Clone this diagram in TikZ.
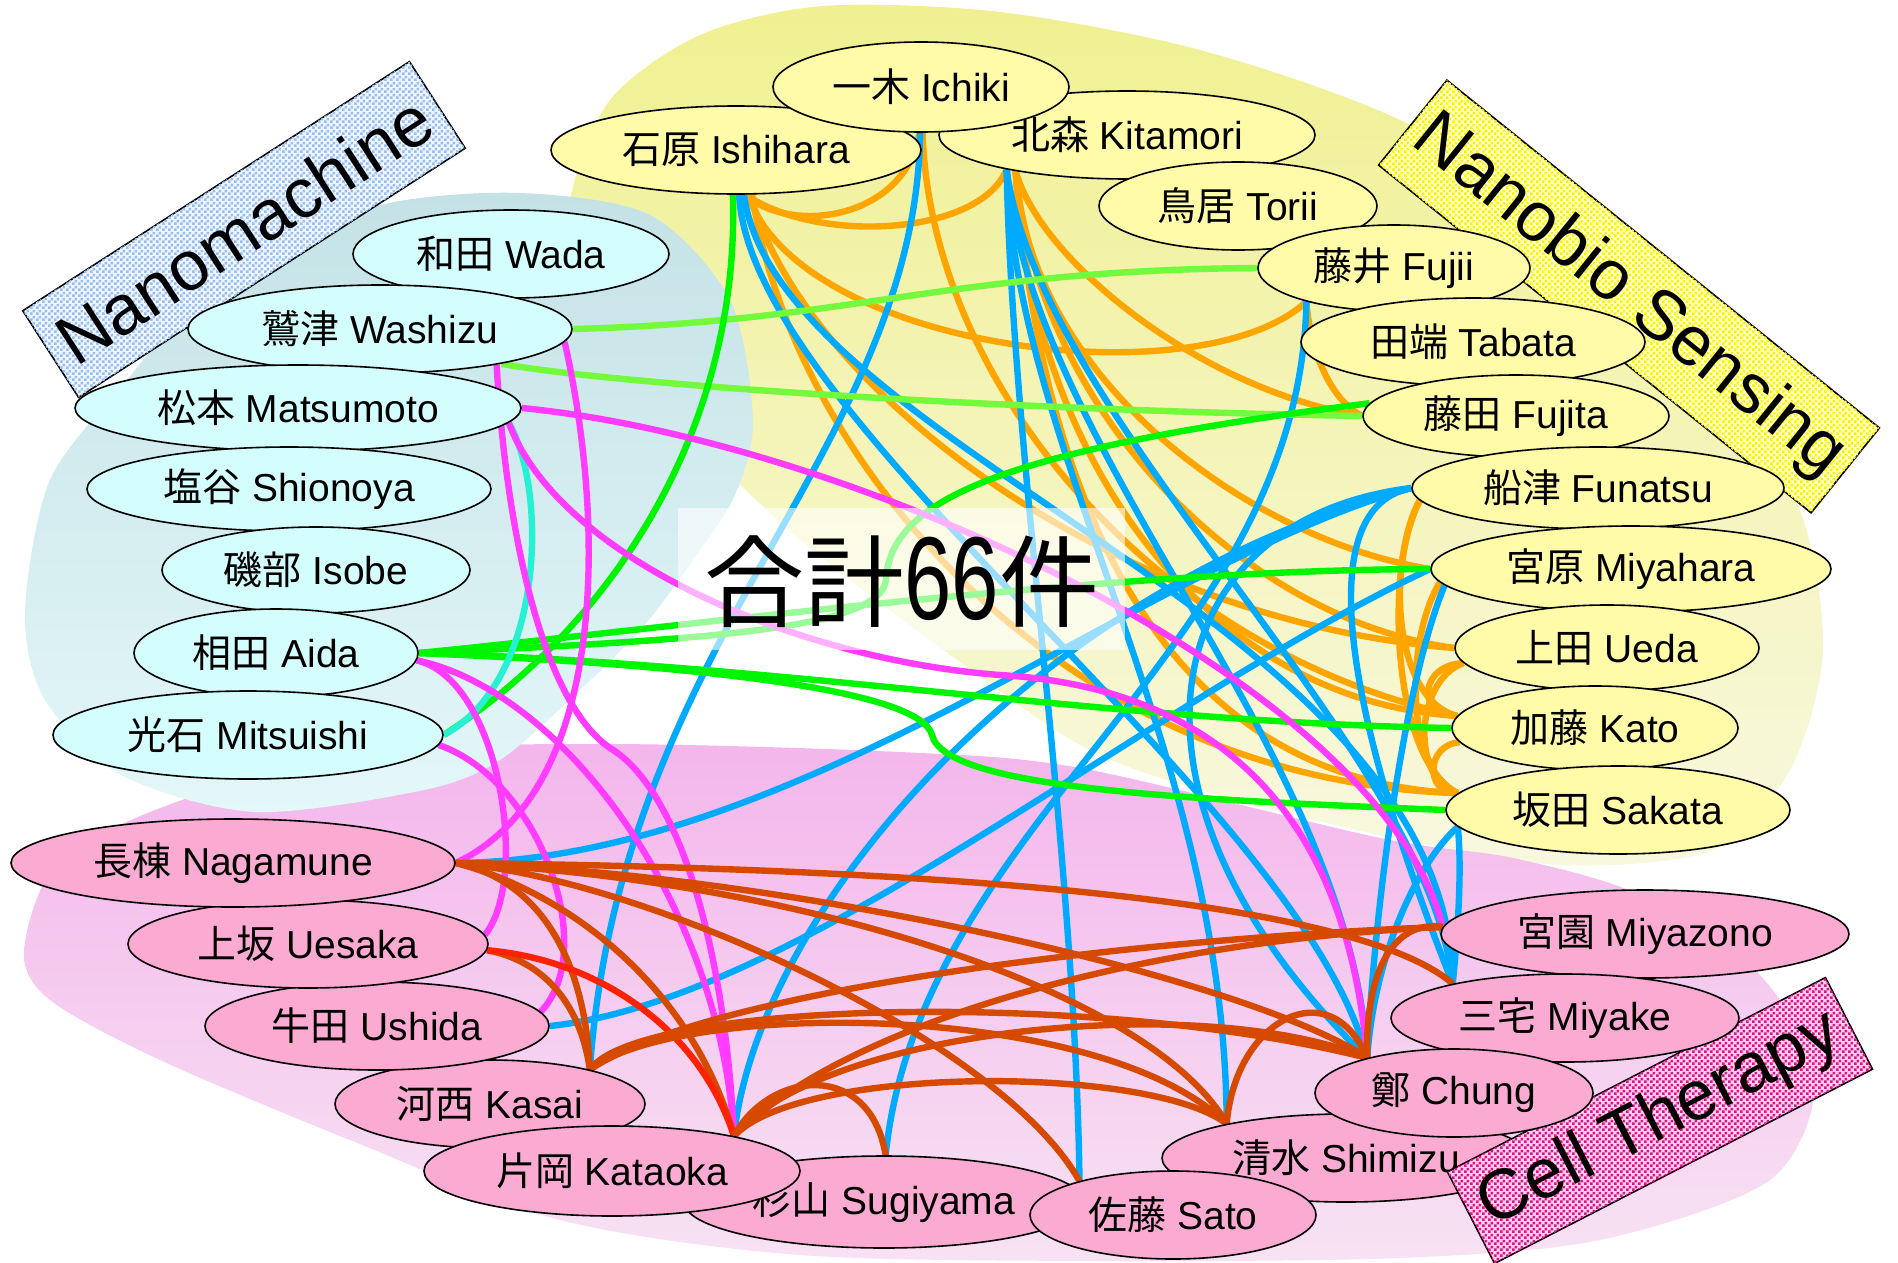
\documentclass[tikz,border=0pt]{standalone}
\usepackage{fontspec}
\setmainfont{Liberation Sans}
\newfontfamily\jp{Noto Sans CJK JP}
\usetikzlibrary{shapes.geometric,patterns.meta}
\pgfdeclarelayer{blobs}
\pgfdeclarelayer{edges}
\pgfdeclarelayer{mid}
\pgfsetlayers{blobs,edges,mid,main}
\definecolor{cyblobtop}{RGB}{196,226,230}
\definecolor{cyblobbot}{RGB}{228,247,249}
\definecolor{yeblobtop}{RGB}{240,240,145}
\definecolor{yeblobbot}{RGB}{248,248,224}
\definecolor{pkblobtop}{RGB}{244,182,236}
\definecolor{pkblobbot}{RGB}{247,226,243}
\definecolor{cynode}{RGB}{212,254,254}
\definecolor{yenode}{RGB}{255,251,168}
\definecolor{pknode}{RGB}{251,170,210}
\definecolor{eorangec}{RGB}{255,165,0}
\definecolor{ebluec}{RGB}{0,170,255}
\definecolor{egreenc}{RGB}{0,245,0}
\definecolor{elgreenc}{RGB}{115,250,60}
\definecolor{emagc}{RGB}{255,60,255}
\definecolor{ebrownc}{RGB}{214,74,0}
\definecolor{eredc}{RGB}{255,34,0}
\definecolor{eturqc}{RGB}{40,240,210}
\definecolor{nmpat}{RGB}{150,190,240}
\definecolor{nmbg}{RGB}{240,246,255}
\definecolor{nbpat}{RGB}{255,240,0}
\definecolor{nbbg}{RGB}{255,255,215}
\definecolor{ctpat}{RGB}{215,20,140}
\definecolor{ctbg}{RGB}{250,210,235}
\tikzdeclarepattern{
  name=checkgrid,
  type=uncolored,
  bottom left={(0pt,0pt)},
  top right={(6pt,6pt)},
  tile size={(6pt,6pt)},
  code={
    \fill (0pt,0pt) rectangle (3pt,3pt);
    \fill (3pt,3pt) rectangle (6pt,6pt);
  }
}
\newcommand{\pname}[2]{\makebox[0pt]{{\jp #1} #2}}
\tikzset{
  person/.style={ellipse, draw=black, line width=1.6pt, inner sep=0pt, font=\fontsize{39}{44}\selectfont},
  cyn/.style={person, fill=cynode},
  yen/.style={person, fill=yenode},
  pkn/.style={person, fill=pknode},
  lab/.style={draw=black, line width=1.6pt, inner sep=0pt, font=\fontsize{70}{80}\selectfont},
  conn/.style={line width=6.4pt},
  eo/.style={conn, draw=eorangec},
  eb/.style={conn, draw=ebluec},
  eg/.style={conn, draw=egreenc},
  elg/.style={conn, draw=elgreenc},
  emg/.style={conn, draw=emagc},
  ebr/.style={conn, draw=ebrownc},
  erd/.style={conn, draw=eredc},
  etq/.style={conn, draw=eturqc},
}
\begin{document}
\begin{tikzpicture}[x=1pt, y=-1pt]
\useasboundingbox (0,0) rectangle (1898,1263);
% background blobs
\begin{pgfonlayer}{blobs}
\shade[top color=yeblobtop, bottom color=yeblobbot] plot[smooth cycle] coordinates {
 (567,330) (570,200) (610,100) (700,35) (823,6) (1000,12) (1200,50) (1400,120) (1580,230)
 (1720,370) (1800,510) (1823,650) (1790,770) (1713,850) (1560,865) (1380,835) (1200,790)
 (1080,745) (930,640) (800,540) (690,440) (600,390)};
\shade[top color=pkblobtop, bottom color=pkblobbot] plot[smooth cycle] coordinates {
 (24,950) (60,860) (182,800) (364,752) (606,744) (900,752) (1080,768) (1380,838) (1513,858)
 (1640,895) (1760,975) (1815,1080) (1770,1180) (1600,1240) (1400,1258) (1100,1261)
 (800,1255) (560,1220) (350,1140) (160,1060) (50,1000)};
\shade[top color=cyblobtop, bottom color=cyblobbot] plot[smooth cycle] coordinates {
 (25,613) (50,480) (127,380) (233,262) (380,205) (520,193) (650,215) (730,300) (753,420)
 (735,495) (693,560) (643,627) (580,690) (500,760) (424,790) (255,812) (121,775) (45,700)};
\end{pgfonlayer}

% name ellipses
\node[cyn, minimum width=316pt, minimum height=88pt] (wada) at (511,254) {\pname{和田}{Wada}};
\node[cyn, minimum width=384pt, minimum height=88pt] (washizu) at (380,329) {\pname{鷲津}{Washizu}};
\node[cyn, minimum width=446pt, minimum height=86pt] (matsumoto) at (298,408) {\pname{松本}{Matsumoto}};
\node[cyn, minimum width=404pt, minimum height=84pt] (shionoya) at (289,489) {\pname{塩谷}{Shionoya}};
\node[cyn, minimum width=308pt, minimum height=86pt] (isobe) at (316,570) {\pname{磯部}{Isobe}};
\node[cyn, minimum width=284pt, minimum height=88pt] (aida) at (276,653) {\pname{相田}{Aida}};
\node[cyn, minimum width=390pt, minimum height=88pt] (mitsuishi) at (248,735) {\pname{光石}{Mitsuishi}};

\node[yen, minimum width=370pt, minimum height=88pt] (ishihara) at (736,150) {\pname{石原}{Ishihara}};
\node[yen, minimum width=376pt, minimum height=88pt] (kitamori) at (1127,135) {\pname{北森}{Kitamori}};
\node[yen, minimum width=296pt, minimum height=90pt] (ichiki) at (921,87) {\pname{一木}{Ichiki}};
\node[yen, minimum width=278pt, minimum height=88pt] (torii) at (1238,206) {\pname{鳥居}{Torii}};
\node[yen, minimum width=272pt, minimum height=86pt] (fujii) at (1394,268) {\pname{藤井}{Fujii}};
\node[yen, minimum width=344pt, minimum height=88pt] (tabata) at (1473,342) {\pname{田端}{Tabata}};
\node[yen, minimum width=306pt, minimum height=82pt] (fujita) at (1516,416) {\pname{藤田}{Fujita}};
\node[yen, minimum width=372pt, minimum height=82pt] (funatsu) at (1598,488) {\pname{船津}{Funatsu}};
\node[yen, minimum width=400pt, minimum height=86pt] (miyahara) at (1631,569) {\pname{宮原}{Miyahara}};
\node[yen, minimum width=304pt, minimum height=86pt] (ueda) at (1607,648) {\pname{上田}{Ueda}};
\node[yen, minimum width=286pt, minimum height=84pt] (kato) at (1595,728) {\pname{加藤}{Kato}};
\node[yen, minimum width=344pt, minimum height=88pt] (sakata) at (1618,810) {\pname{坂田}{Sakata}};

\node[pkn, minimum width=408pt, minimum height=88pt] (miyazono) at (1645,934) {\pname{宮園}{Miyazono}};
\node[pkn, minimum width=368pt, minimum height=88pt] (shimizu) at (1346,1158) {\pname{清水}{Shimizu}};
\node[pkn, minimum width=400pt, minimum height=92pt] (sugiyama) at (884,1202) {\pname{杉山}{Sugiyama}};
\node[pkn, minimum width=310pt, minimum height=88pt] (kasai) at (490,1104) {\pname{河西}{Kasai}};
\node[pkn, minimum width=376pt, minimum height=90pt] (kataoka) at (612,1171) {\pname{片岡}{Kataoka}};
\node[pkn, minimum width=286pt, minimum height=88pt] (sato) at (1173,1215) {\pname{佐藤}{Sato}};
\node[pkn, minimum width=344pt, minimum height=88pt] (ushida) at (377,1026) {\pname{牛田}{Ushida}};
\node[pkn, minimum width=360pt, minimum height=88pt] (uesaka) at (308,944) {\pname{上坂}{Uesaka}};
\node[pkn, minimum width=444pt, minimum height=88pt] (nagamune) at (233,863) {\pname{長棟}{Nagamune}};
\node[lab, fill=ctbg, postaction={pattern={checkgrid}, pattern color=ctpat}, minimum width=425pt, minimum height=103pt, rotate=27.2] (celltherapy) at (1660,1120.5) {Cell Therapy};
\node[pkn, minimum width=348pt, minimum height=88pt] (miyake) at (1565,1018) {\pname{三宅}{Miyake}};
\node[pkn, minimum width=278pt, minimum height=88pt] (chung) at (1454,1093) {\pname{鄭}{Chung}};

% category labels and total box, behind the names
\begin{pgfonlayer}{mid}
\node[lab, fill=nmbg, postaction={pattern={checkgrid}, pattern color=nmpat}, minimum width=460pt, minimum height=103pt, rotate=32.8] (nanomachine) at (244,229.5) {Nanomachine};
\node[lab, fill=nbbg, postaction={pattern={checkgrid}, pattern color=nbpat}, minimum width=555pt, minimum height=109pt, rotate=-38.8] (nanobio) at (1629,296.5) {Nanobio Sensing};
\node[fill=white, fill opacity=0.6, draw=none, minimum width=447pt, minimum height=142pt, inner sep=0pt] (totalbox) at (901.5,579) {};
\node[font=\fontsize{100}{104}\selectfont, inner sep=0pt] (total) at (902,582) {{\jp 合計}\scalebox{0.85}[1.18]{66}{\jp 件}};
\end{pgfonlayer}

% ---------------- connectors
\begin{pgfonlayer}{edges}
% orange
\draw[eo] (ishihara.-78) .. controls (790,235) and (905,220) .. (ichiki.-92);
\draw[eo] (ishihara.-78) .. controls (820,245) and (980,235) .. (kitamori.-164);
\draw[eo] (ishihara.-75) .. controls (800,350) and (1200,400) .. (fujii.-159);
\draw[eo] (ishihara.-72) .. controls (800,380) and (1100,620) .. (ueda.180);
\draw[eo] (ishihara.-70) .. controls (790,450) and (1050,780) .. (sakata.174);
\draw[eo] (ichiki.-88) .. controls (930,380) and (1150,650) .. (kato.175);
\draw[eo] (kitamori.-162) .. controls (1040,260) and (1200,390) .. (fujita.180);
\draw[eo] (kitamori.-162) .. controls (1030,380) and (1250,540) .. (miyahara.180);
\draw[eo] (kitamori.-162) .. controls (1040,420) and (1250,620) .. (ueda.180);
\draw[eo] (kitamori.-162) .. controls (1030,450) and (1200,700) .. (kato.175);
\draw[eo] (kitamori.-162) .. controls (1040,480) and (1150,780) .. (sakata.174);
\draw[eo] (fujii.-159) .. controls (1310,350) and (1330,400) .. (fujita.180);
\draw[eo] (funatsu.184) .. controls (1385,560) and (1390,760) .. (sakata.174);
\draw[eo] (funatsu.184) .. controls (1385,570) and (1395,700) .. (kato.175);
\draw[eo] (miyahara.184) .. controls (1405,640) and (1405,770) .. (sakata.174);
\draw[eo] (ueda.186) .. controls (1420,665) and (1415,715) .. (kato.175);
\draw[eo] (ueda.186) .. controls (1415,680) and (1410,780) .. (sakata.174);
\draw[eo] (kato.186) .. controls (1425,745) and (1425,795) .. (sakata.174);
% blue
\draw[eb] (funatsu.180) .. controls (1150,560) and (800,860) .. (nagamune.0);
\draw[eb] (miyahara.180) .. controls (1150,700) and (800,1000) .. (ushida.0);
\draw[eb] (ichiki.-91) .. controls (915,450) and (620,640) .. (kasai.19);
\draw[eb] (funatsu.180) .. controls (1050,580) and (760,900) .. (kataoka.16);
\draw[eb] (fujii.-159) .. controls (1300,650) and (920,820) .. (sugiyama.88);
\draw[eb] (kitamori.-164) .. controls (1012,450) and (1075,850) .. (sato.160);
\draw[eb] (kitamori.-164) .. controls (1015,450) and (1225,750) .. (shimizu.164);
\draw[eb] (kitamori.-164) .. controls (1030,450) and (1350,750) .. (chung.158);
\draw[eb] (kitamori.-164) .. controls (1040,420) and (1430,750) .. (miyake.163);
\draw[eb] (ishihara.-86) .. controls (750,420) and (1300,800) .. (chung.158);
\draw[eb] (ishihara.-80) .. controls (780,450) and (1450,620) .. (miyake.163);
\draw[eb] (funatsu.180) .. controls (1150,520) and (1100,800) .. (chung.158);
\draw[eb] (miyahara.185) .. controls (1405,680) and (1375,900) .. (chung.158);
\draw[eb] (sakata.186) .. controls (1420,860) and (1375,950) .. (chung.158);
\draw[eb] (sakata.186) .. controls (1462,870) and (1458,930) .. (miyake.163);
\draw[eb] (funatsu.180) .. controls (1300,510) and (1360,750) .. (miyake.163);
% green
\draw[elg] (washizu.0) .. controls (850,322) and (950,270) .. (fujii.180);
\draw[elg] (washizu.-16) .. controls (620,385) and (1000,410) .. (fujita.180);
\draw[eg] (ishihara.-94) .. controls (740,420) and (620,620) .. (mitsuishi.0);
\draw[eg] (aida.0) .. controls (700,640) and (880,630) .. (886,580) .. controls (890,500) and (1000,450) .. (fujita.175);
\draw[eg] (aida.0) .. controls (700,625) and (1100,570) .. (miyahara.180);
\draw[eg] (aida.0) .. controls (800,665) and (1100,722) .. (kato.180);
\draw[eg] (aida.0) .. controls (700,665) and (920,690) .. (932,735) .. controls (945,790) and (1200,800) .. (sakata.180);
% turquoise
\draw[etq] (matsumoto.-4) .. controls (548,490) and (545,680) .. (mitsuishi.0);
% magenta
\draw[emg] (washizu.-4) .. controls (605,520) and (610,790) .. (nagamune.0);
\draw[emg] (washizu.-17) .. controls (505,520) and (540,700) .. (610,748) .. controls (680,790) and (725,950) .. (kataoka.16);
\draw[emg] (mitsuishi.-3) .. controls (540,780) and (600,950) .. (ushida.5);
\draw[emg] (aida.-3) .. controls (500,680) and (530,880) .. (uesaka.3);
\draw[emg] (aida.-3) .. controls (560,690) and (720,900) .. (kataoka.16);
\draw[emg] (matsumoto.0) .. controls (850,440) and (1380,680) .. (miyazono.178);
\draw[emg] (matsumoto.-4) .. controls (560,560) and (800,660) .. (1000,675) .. controls (1250,690) and (1350,850) .. (chung.158);
% brown / red
\draw[ebr] (nagamune.0) .. controls (540,880) and (585,960) .. (kasai.19);
\draw[ebr] (nagamune.0) .. controls (560,890) and (690,980) .. (kataoka.16);
\draw[ebr] (nagamune.0) .. controls (650,880) and (1000,1040) .. (sato.160);
\draw[ebr] (nagamune.0) .. controls (800,880) and (1150,990) .. (shimizu.164);
\draw[ebr] (nagamune.0) .. controls (800,875) and (1250,980) .. (chung.158);
\draw[ebr] (nagamune.0) .. controls (900,868) and (1350,895) .. (miyake.163);
\draw[ebr] (uesaka.-2) .. controls (540,960) and (580,1000) .. (kasai.19);
\draw[erd] (uesaka.-2) .. controls (600,960) and (700,1030) .. (kataoka.16);
\draw[ebr] (kasai.19) .. controls (640,1000) and (1100,990) .. (chung.158);
\draw[ebr] (kasai.19) .. controls (700,995) and (1100,940) .. (miyazono.178);
\draw[ebr] (kasai.19) .. controls (680,1000) and (1100,1000) .. (shimizu.164);
\draw[ebr] (kataoka.16) .. controls (770,1070) and (870,1060) .. (sugiyama.88);
\draw[ebr] (kataoka.16) .. controls (800,1065) and (1150,1065) .. (shimizu.164);
\draw[ebr] (kataoka.16) .. controls (820,1030) and (1200,990) .. (chung.158);
\draw[ebr] (kataoka.16) .. controls (850,1020) and (1150,940) .. (miyazono.178);
\draw[ebr] (chung.158) .. controls (1365,960) and (1400,920) .. (miyazono.178);
\draw[ebr] (shimizu.164) .. controls (1235,1020) and (1330,970) .. (chung.158);
\end{pgfonlayer}
\end{tikzpicture}
\end{document}
